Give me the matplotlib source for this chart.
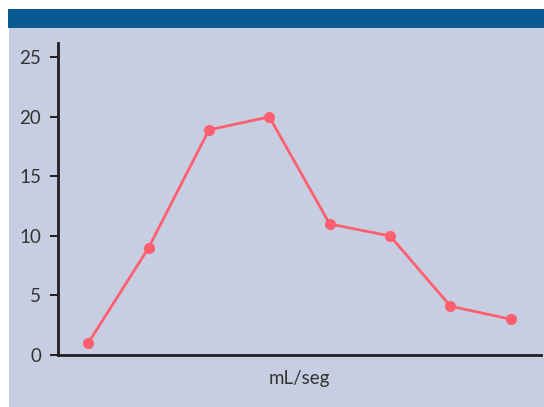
import matplotlib.pyplot as plt
from matplotlib.patches import Rectangle

# values
points = [0, 1, 2, 3, 4, 5, 6, 7]
flow = [1, 9, 18.9, 20, 11, 10, 4.1, 3]
yticks = [0, 5, 10, 15, 20, 25]

W, H = 544, 407
fig = plt.figure(figsize=(W / 100, H / 100), dpi=100)
fig.patch.set_facecolor("white")

# panel background and blue header band
fig.add_artist(Rectangle((9 / W, 0), 1, (H - 28) / H, transform=fig.transFigure,
                         facecolor="#c8cee2", edgecolor="none", zorder=-10))
fig.add_artist(Rectangle((8 / W, (H - 28) / H), 1, 19 / H, transform=fig.transFigure,
                         facecolor="#0b5994", edgecolor="none", zorder=-10))

ax = fig.add_axes([58 / W, (H - 355) / H, (541 - 58) / W, (355 - 43) / H])
ax.set_facecolor("none")

ax.plot(points, flow, color="#ff5f6f", lw=2, marker="o", markersize=7)

ax.set_xlim(-0.5, 7.5)
ax.set_ylim(0, 26.2)
ax.set_yticks(yticks)
ax.set_xticks([])

for s in ["top", "right"]:
    ax.spines[s].set_visible(False)
for s in ["left", "bottom"]:
    ax.spines[s].set_color("#231f20")
    ax.spines[s].set_linewidth(2)

font = "Lato"
ax.tick_params(axis="y", length=6, width=1.4, color="#231f20", labelcolor="#333333",
               labelsize=13.5, pad=6)
for lbl in ax.get_yticklabels():
    lbl.set_fontfamily(font)
ax.set_xlabel("mL/seg", fontsize=13.5, color="#333333", fontfamily=font, labelpad=11)

fig.savefig("out.png", dpi=100)
